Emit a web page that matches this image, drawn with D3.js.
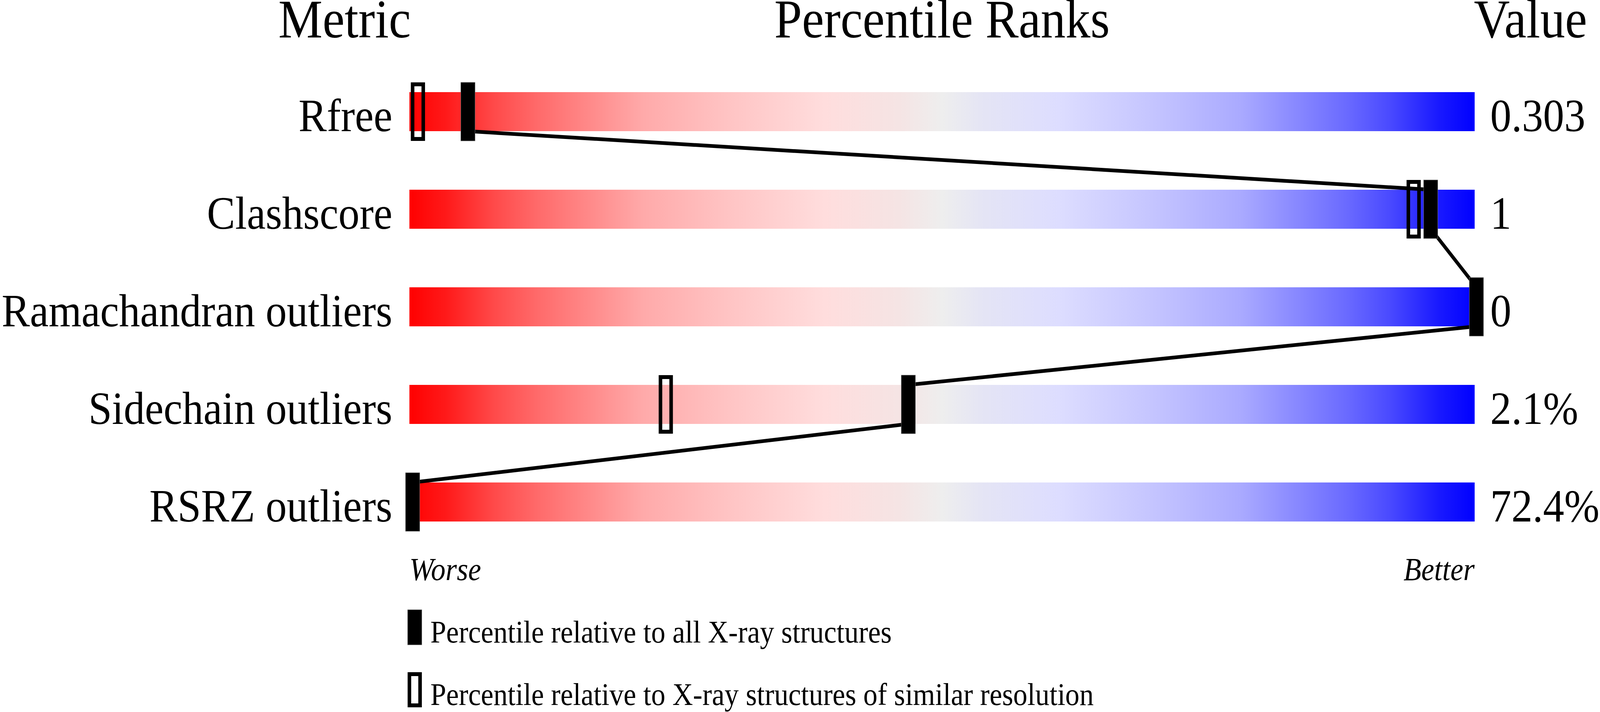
<!DOCTYPE html>
<html>
<head>
<meta charset="utf-8">
<script src="https://cdn.jsdelivr.net/npm/d3@7"></script>
<style>
  html, body { margin: 0; padding: 0; background: #fff; overflow: hidden; }
  svg { display: block; }
  text { font-family: "Liberation Serif", "Times New Roman", serif; fill: #000; }
</style>
</head>
<body>
<div id="chart"></div>
<script>
// Metrics, shown top to bottom
const metrics = ['Rfree', 'Clashscore', 'Ramachandran outliers', 'Sidechain outliers', 'RSRZ outliers'];
const values = ['0.303', '1', '0', '2.1%', '72.4%'];

// Percentile relative to all X-ray structures (filled marker)
const pctAll = [5.2, 95.7, 100, 46.6, 0];
// Percentile relative to structures of similar resolution (open marker), null = not shown
const pctSimilar = [0.5, 94.1, null, 23.8, null];

const legendLabels = [
    'Percentile relative to all X-ray structures',
    'Percentile relative to X-ray structures of similar resolution'
];

// Worse (red) -> Better (blue)
const gradientStops = [
    [0, '#ff0000'], [0.035, '#ff1a1a'], [0.08, '#ff4a4a'], [0.12, '#ff6a6a'],
    [0.22, '#ffaaaa'], [0.30, '#ffc4c4'], [0.39, '#ffdddd'], [0.46, '#f5e4e4'],
    [0.50, '#eeeeee'],
    [0.54, '#e4e4f5'], [0.61, '#ddddff'], [0.70, '#c4c4ff'], [0.78, '#aaaaff'],
    [0.88, '#6a6aff'], [0.92, '#4a4aff'], [0.965, '#1a1aff'], [1, '#0000ff']
];

// drawing is laid out on a 4506 x 1824 canvas, then stretched to fill the window
const width = 4506, height = 1824;
const barX0 = 1153, barX1 = 4153;
const barH = 100, markW = 40, markH = 150;

const svg = d3.select('#chart')
    .append('svg')
    .attr('width', window.innerWidth || width)
    .attr('height', window.innerHeight || height)
    .attr('viewBox', [0, 0, width, height])
    .attr('preserveAspectRatio', 'none');

const grad = svg.append('defs')
    .append('linearGradient')
    .attr('id', 'rank-grad')
    .attr('x1', '0%').attr('x2', '100%')
    .attr('y1', '0%').attr('y2', '0%');
grad.selectAll('stop')
    .data(gradientStops)
    .join('stop')
    .attr('offset', d => d[0])
    .attr('stop-color', d => d[1]);

// row centres
const y = d3.scalePoint()
    .domain(metrics)
    .range([286, 1286]);

// marker centres
const x = d3.scaleLinear()
    .domain([0, 100])
    .range([1162, 4158]);

// column headers
svg.append('text')
    .attr('x', 1157).attr('y', 96)
    .attr('text-anchor', 'end')
    .style('font-size', '140px')
    .text('Metric');
svg.append('text')
    .attr('x', (barX0 + barX1) / 2).attr('y', 96)
    .attr('text-anchor', 'middle')
    .style('font-size', '140px')
    .text('Percentile Ranks');
svg.append('text')
    .attr('x', 4151).attr('y', 96)
    .style('font-size', '140px')
    .text('Value');

// bars
svg.selectAll('.bar')
    .data(metrics)
    .join('rect')
    .attr('class', 'bar')
    .attr('x', barX0)
    .attr('y', d => y(d) - barH / 2)
    .attr('width', barX1 - barX0)
    .attr('height', barH)
    .attr('fill', 'url(#rank-grad)');

// metric labels
svg.selectAll('.label')
    .data(metrics)
    .join('text')
    .attr('class', 'label')
    .attr('x', 1105)
    .attr('y', d => y(d) + barH / 2)
    .attr('text-anchor', 'end')
    .style('font-size', '119px')
    .text(d => d);

// values
svg.selectAll('.value')
    .data(values)
    .join('text')
    .attr('class', 'value')
    .attr('x', 4197)
    .attr('y', (d, i) => y(metrics[i]) + barH / 2)
    .style('font-size', '119px')
    .text(d => d);

// connecting line: bottom of one bar to top of the next, at the filled markers
const pts = [];
pctAll.forEach((p, i) => {
    if (i > 0) pts.push([x(p), y(metrics[i]) - barH / 2]);
    if (i < pctAll.length - 1) pts.push([x(p), y(metrics[i]) + barH / 2]);
});
svg.append('path')
    .attr('d', d3.line()(pts))
    .attr('fill', 'none')
    .attr('stroke', '#000')
    .attr('stroke-width', 9.5)
    .attr('stroke-linejoin', 'round');

// open markers
svg.selectAll('.mark-open')
    .data(pctSimilar.map((p, i) => ({p, m: metrics[i]})).filter(d => d.p !== null))
    .join('rect')
    .attr('class', 'mark-open')
    .attr('x', d => x(d.p) - markW / 2 + 5)
    .attr('y', d => y(d.m) - markH / 2 + 5)
    .attr('width', markW - 10)
    .attr('height', markH - 10)
    .attr('fill', 'none')
    .attr('stroke', '#000')
    .attr('stroke-width', 10);

// filled markers
svg.selectAll('.mark-all')
    .data(pctAll.map((p, i) => ({p, m: metrics[i]})))
    .join('rect')
    .attr('class', 'mark-all')
    .attr('x', d => x(d.p) - markW / 2)
    .attr('y', d => y(d.m) - markH / 2)
    .attr('width', markW)
    .attr('height', markH)
    .attr('fill', '#000')
    .attr('stroke', '#777')
    .attr('stroke-width', 1);

// worse / better
svg.append('text')
    .attr('x', barX0).attr('y', 1486)
    .style('font-size', '82px')
    .style('font-style', 'italic')
    .text('Worse');
svg.append('text')
    .attr('x', barX1).attr('y', 1486)
    .attr('text-anchor', 'end')
    .style('font-size', '82px')
    .style('font-style', 'italic')
    .text('Better');

// legend
const legendY = [1562, 1722];
svg.append('rect')
    .attr('x', 1148).attr('y', legendY[0])
    .attr('width', 40).attr('height', 90)
    .attr('fill', '#000')
    .attr('stroke', '#777')
    .attr('stroke-width', 1);
svg.append('rect')
    .attr('x', 1153).attr('y', legendY[1] + 5)
    .attr('width', 30).attr('height', 80)
    .attr('fill', 'none')
    .attr('stroke', '#000')
    .attr('stroke-width', 10);
svg.selectAll('.legend-label')
    .data(legendLabels)
    .join('text')
    .attr('class', 'legend-label')
    .attr('x', 1212)
    .attr('y', (d, i) => legendY[i] + 84)
    .style('font-size', '80px')
    .text(d => d);
</script>
</body>
</html>
